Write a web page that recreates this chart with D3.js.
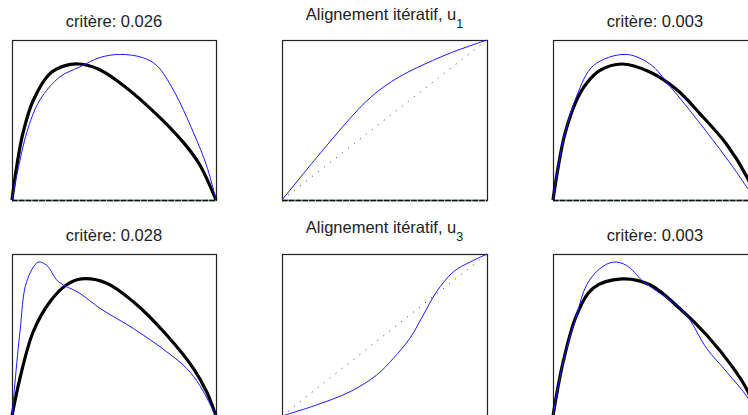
<!DOCTYPE html>
<html>
<head>
<meta charset="utf-8">
<script src="https://cdn.jsdelivr.net/npm/d3@7"></script>
<style>
  body { margin: 0; background: #fff; }
  svg { display: block; }
  text { font-family: "Liberation Sans", Arial, sans-serif; fill: #222; }
</style>
</head>
<body>
<div id="vis_container"></div>
<script>
// ---- data (x and y on [0,1]) ----
var titles = ["critère: 0.026", "Alignement itératif, u", "critère: 0.003",
              "critère: 0.028", "Alignement itératif, u", "critère: 0.003"];
var subscripts = [null, "1", null, null, "3", null];

// black template curves
var templ1X = [0, 0.023, 0.054, 0.105, 0.186, 0.26, 0.33, 0.42, 0.51, 0.68, 0.84, 0.92, 1];
var templ1Y = [0, 0.21, 0.42, 0.625, 0.79, 0.84, 0.85, 0.82, 0.75, 0.57, 0.36, 0.22, 0];
var templ2X = [0, 0.026, 0.059, 0.116, 0.165, 0.23, 0.337, 0.475, 0.606, 0.72, 0.85, 0.95, 1];
var templ2Y = [0, 0.21, 0.417, 0.625, 0.73, 0.81, 0.85, 0.80, 0.69, 0.54, 0.35, 0.146, 0];
var templ4X = [0, 0.039, 0.104, 0.186, 0.268, 0.34, 0.464, 0.595, 0.758, 0.889, 0.954, 1];
var templ4Y = [0, 0.233, 0.52, 0.705, 0.81, 0.846, 0.82, 0.705, 0.50, 0.294, 0.15, 0];
var templ6X = [0, 0.05, 0.116, 0.198, 0.337, 0.475, 0.62, 0.753, 0.885, 0.956, 1];
var templ6Y = [0, 0.335, 0.623, 0.79, 0.846, 0.81, 0.665, 0.50, 0.294, 0.15, 0];

// blue curves
var blue1X = [0, 0.072, 0.137, 0.235, 0.33, 0.43, 0.53, 0.64, 0.71, 0.79, 0.89, 0.955, 1];
var blue1Y = [0, 0.42, 0.625, 0.77, 0.83, 0.89, 0.91, 0.89, 0.84, 0.69, 0.42, 0.21, 0];
var warp1X = [0, 0.169, 0.332, 0.41, 0.494, 0.575, 0.657, 0.82, 1];
var warp1Y = [0, 0.265, 0.51, 0.615, 0.705, 0.772, 0.826, 0.918, 1];
var blue3X = [0, 0.026, 0.059, 0.116, 0.198, 0.353, 0.475, 0.574, 0.72, 0.88, 0.956, 1];
var blue3Y = [0, 0.21, 0.417, 0.65, 0.84, 0.91, 0.85, 0.71, 0.48, 0.21, 0.07, 0];
var blue4X = [0, 0.039, 0.072, 0.129, 0.17, 0.227, 0.333, 0.431, 0.595, 0.758, 0.856, 0.92, 1];
var blue4Y = [0, 0.52, 0.83, 0.95, 0.93, 0.83, 0.757, 0.665, 0.54, 0.397, 0.294, 0.19, 0];
var warp3X = [0, 0.168, 0.332, 0.462, 0.543, 0.624, 0.689, 0.754, 0.836, 0.917, 1];
var warp3Y = [0, 0.068, 0.15, 0.253, 0.356, 0.48, 0.623, 0.767, 0.89, 0.95, 1];
var blue6X = [0, 0.05, 0.116, 0.165, 0.23, 0.296, 0.36, 0.443, 0.64, 0.753, 0.85, 0.956, 1];
var blue6Y = [0, 0.335, 0.623, 0.81, 0.91, 0.95, 0.93, 0.83, 0.644, 0.418, 0.274, 0.11, 0];

function pts(xs, ys) { return xs.map(function(x, i) { return [x, ys[i]]; }); }

var panels = [
  { black: pts(templ1X, templ1Y), blue: pts(blue1X, blue1Y) },
  { diag: true, blue: pts(warp1X, warp1Y) },
  { black: pts(templ2X, templ2Y), blue: pts(blue3X, blue3Y) },
  { black: pts(templ4X, templ4Y), blue: pts(blue4X, blue4Y) },
  { diag: true, blue: pts(warp3X, warp3Y) },
  { black: pts(templ6X, templ6Y), blue: pts(blue6X, blue6Y) }
];

// ---- layout ----
var W = 748, H = 415;
var colLeft = [12, 282, 553];
var colW = [204, 205, 204];
var rowTop = [40, 254];
var rowH = [160, 162];
var titleY = [[27, 20, 27], [241, 232.5, 241]];

var svg = d3.select("#vis_container").append("svg")
  .attr("width", W).attr("height", H);

panels.forEach(function(p, i) {
  var r = Math.floor(i / 3), c = i % 3;
  var x0 = colLeft[c], w = colW[c], y0 = rowTop[r], h = rowH[r];

  var x = d3.scaleLinear().domain([0, 1]).range([x0, x0 + w]);
  var y = d3.scaleLinear().domain([0, 1]).range([y0 + h, y0]);
  var line = d3.line()
    .x(function(d) { return x(d[0]); })
    .y(function(d) { return y(d[1]); })
    .curve(d3.curveCatmullRom.alpha(0.5));

  var g = svg.append("g");

  // title
  var t = g.append("text")
    .attr("x", x0 + w / 2)
    .attr("y", titleY[r][c])
    .attr("text-anchor", "middle")
    .attr("font-size", 16.5)
    .text(titles[i]);
  if (subscripts[i]) {
    t.append("tspan").attr("dy", 8).attr("font-size", 12.5).text(subscripts[i]);
  }

  // frame
  g.append("rect")
    .attr("x", x0 + 0.5).attr("y", y0 + 0.5)
    .attr("width", w).attr("height", h)
    .attr("fill", "none")
    .attr("stroke", "#222")
    .attr("stroke-width", 1.2);
  // bottom axis line with small light gaps
  g.append("line")
    .attr("x1", x0).attr("x2", x0 + w)
    .attr("y1", y0 + h + 0.5).attr("y2", y0 + h + 0.5)
    .attr("stroke", "#7fa8a8").attr("stroke-width", 1.5);
  g.append("line")
    .attr("x1", x0).attr("x2", x0 + w)
    .attr("y1", y0 + h + 0.5).attr("y2", y0 + h + 0.5)
    .attr("stroke", "#111").attr("stroke-width", 1.5)
    .attr("stroke-dasharray", "5.6,1.2");

  if (p.diag) {
    g.append("path")
      .attr("d", line([[0, 0], [1, 1]]))
      .attr("fill", "none")
      .attr("stroke", "#333")
      .attr("stroke-width", 1)
      .attr("stroke-dasharray", "1,6.6");
  }
  if (p.black) {
    g.append("path")
      .attr("d", line(p.black))
      .attr("fill", "none")
      .attr("stroke", "#000")
      .attr("stroke-width", 3.2)
      .attr("stroke-linejoin", "round");
  }
  g.append("path")
    .attr("d", line(p.blue))
    .attr("fill", "none")
    .attr("stroke", "#1a1aff")
    .attr("stroke-width", 1);
});
</script>
</body>
</html>
